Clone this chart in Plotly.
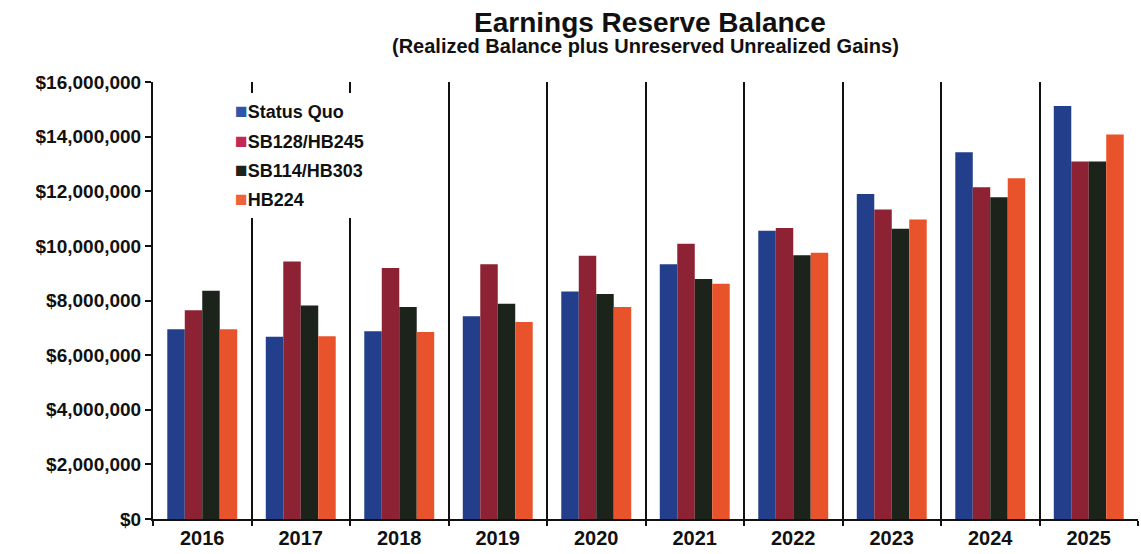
import plotly.graph_objects as go

years = ["2016", "2017", "2018", "2019", "2020", "2021", "2022", "2023", "2024", "2025"]

status_quo = [6950000, 6670000, 6870000, 7420000, 8330000, 9330000, 10550000, 11900000, 13430000, 15120000]
sb128_hb245 = [7640000, 9430000, 9190000, 9330000, 9640000, 10080000, 10650000, 11330000, 12150000, 13090000]
sb114_hb303 = [8360000, 7820000, 7760000, 7880000, 8240000, 8790000, 9660000, 10630000, 11780000, 13090000]
hb224 = [6950000, 6690000, 6850000, 7210000, 7760000, 8610000, 9750000, 10970000, 12480000, 14080000]

series = [
    ("Status Quo", status_quo, "#233f8c", "#2d55a8"),
    ("SB128/HB245", sb128_hb245, "#8c2233", "#c02a55"),
    ("SB114/HB303", sb114_hb303, "#1b231a", "#1b231a"),
    ("HB224", hb224, "#e9532b", "#f0623a"),
]

FONT = "Liberation Sans, Arial, sans-serif"
INK = "#111111"

fig = go.Figure()
for i, (name, vals, color, key_color) in enumerate(series):
    fig.add_trace(go.Bar(
        x=years, y=vals, name=name,
        marker=dict(color=color, line=dict(width=0)),
        legendgroup=f"g{i}", showlegend=False,
    ))
    # legend key: small coloured square set right against the label
    fig.add_trace(go.Scatter(
        x=[None], y=[None], mode="markers",
        marker=dict(color="rgba(0,0,0,0)", size=1),
        name=(f"<span style='color:{key_color};font-size:21px'>\u25A0</span>"
              f"<b>{name}</b>"),
        legendgroup=f"g{i}", showlegend=True, hoverinfo="skip",
    ))

fig.update_layout(
    width=1141, height=554,
    margin=dict(l=153, r=3, t=82, b=35),
    paper_bgcolor="white", plot_bgcolor="white",
    barmode="group", bargap=0.29, bargroupgap=0,
    font=dict(family=FONT, color=INK),
    showlegend=True,
    legend=dict(
        x=0.0427, y=0.975, xanchor="left", yanchor="top",
        bgcolor="white", borderwidth=0,
        font=dict(size=18, family=FONT, color=INK),
        tracegroupgap=3, itemwidth=30,
    ),
    annotations=[
        dict(text="<b>Earnings Reserve Balance</b>", xref="paper", yref="paper",
             x=0.505, y=(519 - 22) / 437, xanchor="center", yanchor="middle",
             showarrow=False, font=dict(size=28, family=FONT, color=INK)),
        dict(text="<b>(Realized Balance plus Unreserved Unrealized Gains)</b>",
             xref="paper", yref="paper",
             x=0.5, y=(519 - 46) / 437, xanchor="center", yanchor="middle",
             showarrow=False, font=dict(size=20, family=FONT, color=INK)),
    ],
    xaxis=dict(
        type="category", tickson="boundaries",
        showgrid=True, gridcolor=INK, gridwidth=1.5,
        showline=True, linecolor=INK, linewidth=2,
        ticks="outside", ticklen=5, tickcolor=INK, tickwidth=1.5,
        tickfont=dict(size=20, family=FONT, color=INK),
        tickprefix="<b>", ticksuffix="</b>",
    ),
    yaxis=dict(
        range=[0, 16000000], dtick=2000000,
        showgrid=False, zeroline=False,
        showline=True, linecolor=INK, linewidth=2,
        ticks="outside", ticklen=6, tickcolor=INK, tickwidth=1.5,
        tickformat=",d", tickprefix="<b>$", ticksuffix="</b>",
        tickfont=dict(size=19, family=FONT, color=INK),
    ),
)

fig.write_html("out.html")
